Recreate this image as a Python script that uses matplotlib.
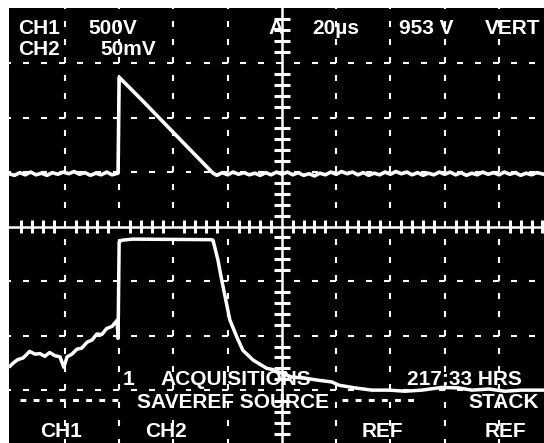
import numpy as np
import matplotlib
matplotlib.use("Agg")
import matplotlib.pyplot as plt
from matplotlib.collections import LineCollection
from matplotlib.lines import Line2D

# trace data, in screen divisions (centre of screen = 0, 0)
ch1_x = [-5.03, -4.93, -4.83, -4.73, -4.63, -4.53, -4.43, -4.33, -4.23, -4.13,
         -4.03, -3.93, -3.83, -3.73, -3.63, -3.53, -3.43, -3.33, -3.23, -3.13,
         -3.02,
         -3.0, -2.56, -2.19, -1.8, -1.27,
         -1.2, -1.1, -1.0, -0.9, -0.8, -0.7, -0.6, -0.5, -0.4, -0.3, -0.2,
         -0.1, 0.0, 0.1, 0.2, 0.3, 0.4, 0.5, 0.6, 0.7, 0.8, 0.9, 1.0, 1.1,
         1.2, 1.3, 1.4, 1.5, 1.6, 1.7, 1.8, 1.9, 2.0, 2.1, 2.2, 2.3, 2.4,
         2.5, 2.6, 2.7, 2.8, 2.9, 3.0, 3.1, 3.2, 3.3, 3.4, 3.5, 3.6, 3.7,
         3.8, 3.9, 4.0, 4.1, 4.2, 4.3, 4.4, 4.5, 4.6, 4.7, 4.83]
ch1_y = [0.97, 0.94, 0.99, 0.95, 1.00, 0.95, 0.98, 0.94, 0.99, 0.96, 1.00,
         0.97, 1.01, 0.96, 0.99, 0.94, 0.98, 0.95, 1.00, 0.95, 0.98,
         2.74, 2.30, 1.92, 1.52, 0.98,
         0.94, 0.99, 0.95, 1.00, 0.96, 0.99, 0.95, 0.98, 0.94, 0.99, 0.95,
         1.00, 0.96, 1.00, 0.95, 0.99, 0.94, 0.97, 0.93, 0.98, 0.95, 1.00,
         0.96, 1.01, 0.97, 1.00, 0.95, 0.99, 0.94, 0.98, 0.95, 1.00, 0.96,
         1.01, 0.97, 1.00, 0.95, 0.99, 0.94, 0.98, 0.95, 1.00, 0.96, 1.00,
         0.95, 0.99, 0.94, 0.98, 0.95, 1.00, 0.96, 0.99, 0.95, 1.00, 0.96,
         0.99, 0.94, 0.98, 0.95, 0.99, 0.96]

ch2_x = [-5.01, -4.96, -4.87, -4.77, -4.65, -4.55, -4.46, -4.37, -4.28, -4.18,
         -4.09, -4.02, -3.96, -3.87, -3.78, -3.69, -3.59, -3.50, -3.41, -3.32,
         -3.23, -3.13, -3.04, -3.02, -3.00, -2.95,
         -2.75, -1.3, -1.27, -1.18, -1.11, -0.96, -0.83, -0.72, -0.53, -0.28,
         -0.18, 0.0, 0.18, 0.42, 0.68, 0.92, 1.05, 1.35, 1.66, 1.97, 2.27,
         2.58, 2.95, 3.26, 3.50, 3.82, 4.11, 4.42, 4.83]
ch2_y = [-2.56, -2.51, -2.44, -2.41, -2.29, -2.34, -2.33, -2.38, -2.31, -2.37,
         -2.39, -2.58, -2.39, -2.34, -2.25, -2.23, -2.12, -2.08, -1.97, -1.98,
         -1.87, -1.83, -1.72, -2.05, -0.28, -0.25,
         -0.23, -0.24, -0.25, -0.61, -0.98, -1.71, -2.03, -2.27, -2.45, -2.60,
         -2.62, -2.69, -2.76, -2.78, -2.82, -2.85, -2.91, -2.96, -3.00, -3.00,
         -3.02, -3.00, -2.95, -2.96, -3.00, -2.98, -3.02, -3.00, -3.00]

# screen readout: (text, x px, baseline y px)
labels = [("CH1", 18, 34), ("500V", 88, 34), ("A", 268, 34), ("20µs", 312, 34),
          ("953 V", 399, 34), ("VERT", 485, 34),
          ("CH2", 18, 55), ("50mV", 100, 55),
          ("1", 123, 385), ("ACQUISITIONS", 160, 385), ("217:33 HRS", 407, 385),
          ("SAVEREF SOURCE", 137, 408), ("STACK", 468, 408),
          ("CH1", 40, 437), ("CH2", 145, 437), ("REF", 362, 437), ("REF", 485, 437)]

W, H = 544, 443
fig = plt.figure(figsize=(W / 100, H / 100), dpi=100, facecolor="white")
ax = fig.add_axes([9 / W, 0, (W - 9) / W, (H - 8) / H])
ax.set_facecolor("black")
ax.set_xlim(-5.03, 4.83)
ax.set_ylim(-3.97, 4.01)
ax.set_xticks([])
ax.set_yticks([])
for sp in ax.spines.values():
    sp.set_visible(False)

# dashed graticule
segs = []
d = 0.055
for y in [-3, -2, -1, 1, 2, 3]:
    for c in np.arange(-6, 6, 1 / 3) - d:
        segs.append([(c - d, y), (c + d, y)])
for x in [-4, -3, -2, -1, 1, 2, 3, 4]:
    for c in np.arange(-5, 5, 1 / 3) + d:
        segs.append([(x, c - d), (x, c + d)])
ax.add_collection(LineCollection(segs, colors="white", linewidths=1.5, capstyle="butt"))

# centre axes with minor ticks
ax.axhline(0, color="white", lw=1.8)
ax.axvline(0, color="white", lw=1.8)
ticks = []
for t in np.arange(-5, 5.01, 0.2):
    if abs(t - round(t)) < 1e-6:
        continue
    ticks.append([(t, -0.12), (t, 0.12)])
    if -4 < t < 4:
        ticks.append([(-0.14, t), (0.14, t)])
ax.add_collection(LineCollection(ticks, colors="white", linewidths=2.2, capstyle="butt"))

ax.plot(ch1_x, ch1_y, color="white", lw=2.6, solid_joinstyle="round")
ax.plot(ch2_x, ch2_y, color="white", lw=2.5, solid_joinstyle="round")

for s, px, py in labels:
    fig.text(px / W, 1 - py / H, s, color="white", fontsize=15, fontweight="bold",
             family="Liberation Sans", va="baseline", ha="left")

# dotted bars on the SAVEREF row
for x0, x1 in [(20, 118), (342, 420)]:
    fig.add_artist(Line2D([x0 / W, x1 / W], [1 - 400 / H] * 2, color="white", lw=2.2,
                          dashes=(1.9, 2.4), dash_capstyle="butt"))

fig.savefig("out.png", dpi=100, facecolor="white")
